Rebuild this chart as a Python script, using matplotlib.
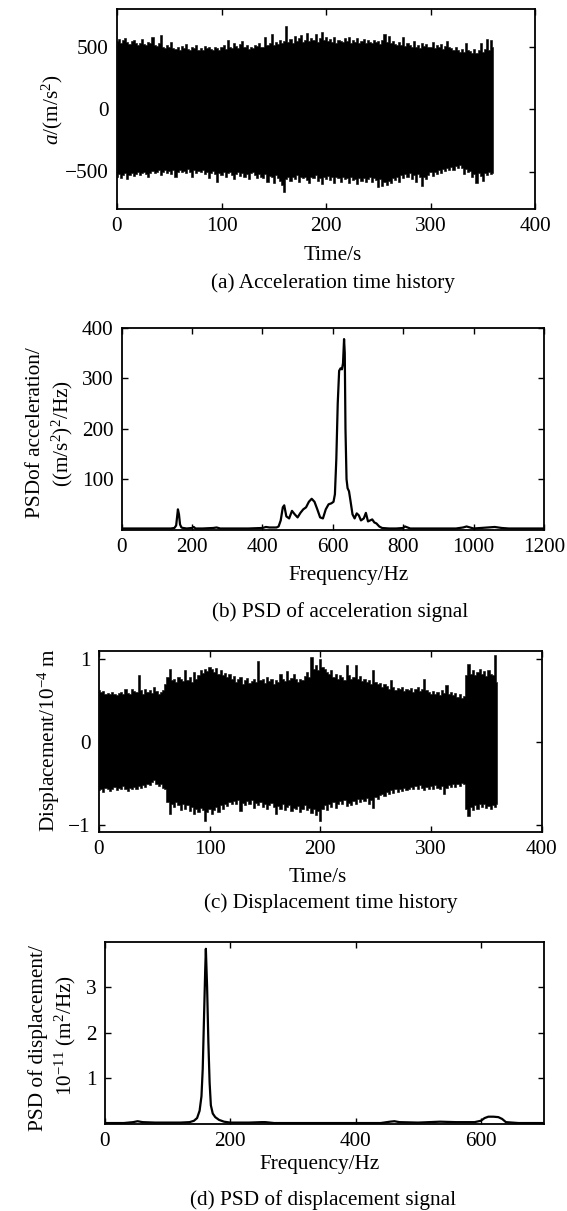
import numpy as np
import matplotlib
matplotlib.use("Agg")
import matplotlib.pyplot as plt

plt.rcParams['font.family'] = ['Liberation Serif', 'DejaVu Serif']
plt.rcParams['mathtext.fontset'] = 'custom'
plt.rcParams['mathtext.rm'] = 'Liberation Serif'
plt.rcParams['mathtext.it'] = 'Liberation Serif:italic'
plt.rcParams['mathtext.bf'] = 'Liberation Serif:bold'

# ---------------- data ----------------
# (a) acceleration time history: envelope (m/s^2) sampled every 2 s, 0..360 s
time_a = np.arange(0, 361, 2)
acc_upper = [
    545, 560, 530, 550, 565, 535, 520, 545, 555, 525,
    515, 530, 560, 520, 510, 535, 525, 580, 515, 505,
    525, 590, 500, 485, 510, 495, 540, 490, 480, 500,
    475, 505, 490, 520, 480, 470, 495, 485, 510, 475,
    490, 470, 505, 485, 495, 480, 470, 500, 490, 475,
    495, 510, 480, 555, 500, 490, 530, 505, 485, 520,
    545, 495, 510, 480, 500, 490, 515, 505, 530, 500,
    500, 575, 510, 525, 600, 515, 540, 520, 555, 530,
    545, 665, 540, 560, 530, 585, 545, 565, 595, 540,
    555, 610, 545, 570, 550, 600, 540, 565, 620, 550,
    575, 545, 560, 540, 580, 525, 555, 545, 535, 570,
    545, 580, 530, 555, 540, 565, 525, 545, 560, 530,
    550, 540, 525, 555, 535, 545, 520, 550, 600, 535,
    585, 530, 545, 520, 510, 540, 515, 575, 505, 525,
    510, 500, 545, 495, 515, 490, 530, 505, 520, 495,
    500, 540, 485, 510, 495, 520, 480, 505, 545, 495,
    490, 470, 500, 475, 460, 480, 455, 530, 470, 465,
    450, 480, 445, 470, 525, 460, 480, 560, 470, 555,
    500]
acc_lower = [
    540, 520, 555, 530, 515, 560, 525, 510, 535, 520,
    505, 530, 515, 500, 520, 545, 510, 495, 515, 500,
    490, 530, 505, 485, 510, 495, 520, 490, 540, 500,
    485, 505, 495, 515, 480, 500, 545, 490, 510, 495,
    505, 490, 520, 500, 555, 510, 495, 520, 585, 515,
    525, 505, 540, 515, 500, 530, 560, 520, 505, 535,
    510, 545, 520, 560, 515, 505, 530, 550, 520, 540,
    555, 520, 585, 535, 545, 590, 530, 550, 575, 610,
    665, 560, 540, 575, 545, 560, 530, 585, 545, 555,
    540, 565, 590, 545, 555, 530, 575, 550, 600, 545,
    560, 535, 570, 545, 595, 540, 555, 580, 545, 560,
    555, 590, 545, 570, 560, 600, 550, 575, 555, 585,
    560, 545, 580, 555, 570, 625, 560, 615, 585, 610,
    575, 595, 550, 565, 540, 580, 530, 555, 520, 545,
    515, 560, 530, 585, 520, 545, 615, 540, 560, 525,
    505, 535, 500, 520, 485, 510, 480, 495, 470, 490,
    460, 485, 455, 475, 450, 470, 520, 480, 500, 495,
    545, 520, 590, 510, 535, 575, 515, 530, 505, 520,
    510]

# (b) PSD of acceleration ((m/s^2)^2/Hz)
freq_b = [0, 20, 50, 100, 140, 150, 155, 160, 163, 166, 170, 175, 185, 200, 205,
          210, 230, 260, 270, 280, 320, 360, 400, 410, 420, 440, 446, 452, 458,
          462, 468, 476, 484, 492, 500, 508, 516, 524, 532, 540, 548, 556, 564,
          572, 580, 588, 596, 602, 606, 610, 614, 618, 622, 626, 629, 632, 634,
          636, 639, 642, 646, 650, 656, 662, 668, 674, 680, 688, 694, 700, 706,
          712, 718, 724, 732, 740, 760, 780, 800, 805, 820, 850, 900, 950, 970,
          980, 1000, 1040, 1060, 1080, 1100, 1150, 1200]
psd_acc = [2, 2, 2, 2, 2, 3, 8, 40, 30, 10, 4, 3, 2, 3, 5,
           2, 2, 3, 4, 2, 2, 2, 3, 5, 4, 4, 6, 18, 44,
           48, 26, 22, 37, 30, 24, 33, 40, 44, 55, 61, 55, 40, 24,
           22, 40, 50, 52, 55, 70, 140, 250, 315, 320, 318, 330, 378, 350,
           200, 100, 82, 76, 58, 30, 22, 32, 28, 18, 22, 33, 16, 18,
           20, 14, 12, 6, 3, 2, 2, 3, 6, 2, 2, 2, 2, 4,
           6, 2, 4, 5, 3, 2, 2, 2]

# (c) displacement time history: envelope (1e-4 m) sampled every 2 s
time_c = np.arange(0, 361, 2)
disp_upper = [
    0.62, 0.60, 0.61, 0.58, 0.59, 0.57, 0.60, 0.58, 0.56, 0.59,
    0.60, 0.57, 0.64, 0.59, 0.58, 0.63, 0.61, 0.60, 0.80, 0.62,
    0.58, 0.64, 0.60, 0.62, 0.59, 0.66, 0.61, 0.57, 0.60, 0.62,
    0.70, 0.78, 0.88, 0.74, 0.76, 0.72, 0.78, 0.75, 0.73, 0.86,
    0.74, 0.78, 0.72, 0.84, 0.76, 0.80, 0.86, 0.83, 0.88, 0.85,
    0.90, 0.87, 0.84, 0.89, 0.82, 0.86, 0.80, 0.83, 0.78, 0.81,
    0.76, 0.79, 0.72, 0.75, 0.78, 0.70, 0.74, 0.77, 0.71, 0.73,
    0.75, 0.72, 0.97, 0.74, 0.76, 0.71, 0.78, 0.73, 0.75, 0.70,
    0.74, 0.72, 0.82, 0.76, 0.73, 0.85, 0.74, 0.77, 0.81, 0.75,
    0.72, 0.76, 0.74, 0.79, 0.84, 0.78, 1.02, 0.88, 0.92, 0.86,
    1.00, 0.90, 0.88, 0.84, 0.82, 0.86, 0.78, 0.81, 0.76, 0.80,
    0.78, 0.74, 0.92, 0.80, 0.76, 0.78, 0.92, 0.75, 0.79, 0.73,
    0.76, 0.72, 0.74, 0.70, 0.86, 0.72, 0.69, 0.71, 0.66, 0.70,
    0.67, 0.64, 0.74, 0.66, 0.62, 0.65, 0.63, 0.66, 0.61, 0.64,
    0.62, 0.65, 0.60, 0.63, 0.66, 0.61, 0.64, 0.75, 0.62, 0.60,
    0.58, 0.61, 0.57, 0.60, 0.56, 0.62, 0.59, 0.68, 0.57, 0.60,
    0.56, 0.59, 0.54, 0.57, 0.53, 0.55, 0.80, 0.93, 0.82, 0.86,
    0.80, 0.84, 0.88, 0.81, 0.85, 0.79, 0.86, 0.82, 0.80, 1.04,
    0.72]
disp_lower = [
    0.58, 0.56, 0.60, 0.55, 0.57, 0.59, 0.56, 0.54, 0.58, 0.55,
    0.57, 0.53, 0.56, 0.59, 0.55, 0.57, 0.54, 0.56, 0.53, 0.55,
    0.52, 0.54, 0.50, 0.52, 0.48, 0.46, 0.50, 0.53, 0.51, 0.55,
    0.56, 0.72, 0.87, 0.74, 0.78, 0.72, 0.76, 0.82, 0.74, 0.80,
    0.76, 0.83, 0.78, 0.86, 0.80, 0.84, 0.79, 0.82, 0.95, 0.84,
    0.80, 0.86, 0.82, 0.78, 0.84, 0.76, 0.80, 0.74, 0.77, 0.72,
    0.75, 0.71, 0.74, 0.70, 0.83, 0.73, 0.76, 0.71, 0.74, 0.70,
    0.79, 0.73, 0.76, 0.72, 0.78, 0.74, 0.80, 0.76, 0.73, 0.78,
    0.87, 0.77, 0.80, 0.75, 0.82, 0.78, 0.76, 0.83, 0.79, 0.81,
    0.77, 0.84, 0.80, 0.76, 0.82, 0.79, 0.85, 0.81, 0.88, 0.83,
    0.95, 0.80, 0.76, 0.82, 0.74, 0.78, 0.72, 0.79, 0.75, 0.71,
    0.74, 0.70, 0.77, 0.73, 0.76, 0.71, 0.74, 0.69, 0.72, 0.68,
    0.71, 0.67, 0.74, 0.70, 0.79, 0.66, 0.69, 0.64, 0.62, 0.65,
    0.60, 0.63, 0.58, 0.61, 0.57, 0.60, 0.56, 0.59, 0.55, 0.58,
    0.56, 0.54, 0.57, 0.53, 0.56, 0.52, 0.55, 0.58, 0.54, 0.57,
    0.53, 0.56, 0.52, 0.55, 0.57, 0.53, 0.63, 0.55, 0.52, 0.54,
    0.51, 0.54, 0.50, 0.53, 0.49, 0.51, 0.80, 0.89, 0.78, 0.82,
    0.76, 0.80, 0.74, 0.78, 0.75, 0.79, 0.77, 0.81, 0.76, 0.78,
    0.74]

# (d) PSD of displacement (1e-11 m^2/Hz)
freq_d = [0, 30, 45, 52, 60, 80, 100, 120, 135, 142, 147, 151, 154, 156, 158,
          160, 161, 163, 165, 167, 169, 172, 176, 182, 190, 200, 230, 250, 256,
          270, 320, 380, 440, 455, 462, 470, 500, 535, 560, 590, 600, 606, 612,
          620, 628, 634, 640, 660, 700]
psd_disp = [0.01, 0.01, 0.03, 0.05, 0.03, 0.02, 0.02, 0.02, 0.03, 0.06, 0.12,
            0.28, 0.6, 1.2, 2.3, 3.4, 3.85, 3.0, 1.8, 0.9, 0.4, 0.22, 0.14,
            0.08, 0.04, 0.02, 0.02, 0.03, 0.03, 0.01, 0.01, 0.01, 0.01, 0.04,
            0.05, 0.03, 0.02, 0.04, 0.03, 0.03, 0.06, 0.12, 0.15, 0.15, 0.14,
            0.10, 0.03, 0.01, 0.01]

# ---------------- layout ----------------
W, H = 567, 1211
fig = plt.figure(figsize=(W / 100, H / 100), dpi=100)
FS = 15.3


def add_ax(left, right, top, bottom):
    return fig.add_axes([left / W, 1 - bottom / H, (right - left) / W, (bottom - top) / H])


def style(ax):
    for s in ax.spines.values():
        s.set_linewidth(1.3)
    ax.tick_params(direction='in', top=True, right=True, length=4, width=1,
                   labelsize=FS, pad=6)


def ftext(x, y, s, **kw):
    fig.text(x / W, 1 - y / H, s, ha='center', va='center', fontsize=FS, **kw)


# (a)
ax = add_ax(117, 535, 9, 209)
ax.fill_between(time_a, -np.array(acc_lower), acc_upper, step='mid',
                color='black', linewidth=0.4)
ax.set_xlim(0, 400)
ax.set_ylim(-800, 800)
ax.set_xticks([0, 100, 200, 300, 400])
ax.set_yticks([-500, 0, 500])
style(ax)
ftext(333, 255, 'Time/s')
ftext(333, 283, '(a) Acceleration time history')
ftext(52, 110, r'$a$/(m/s$^2$)', rotation=90)

# (b)
ax = add_ax(121.6, 544, 328, 529.5)
ax.plot(freq_b, psd_acc, color='black', lw=1.6)
ax.set_xlim(0, 1200)
ax.set_ylim(0, 400)
ax.set_xticks([0, 200, 400, 600, 800, 1000, 1200])
ax.set_yticks([100, 200, 300, 400])
style(ax)
ftext(349, 576, 'Frequency/Hz')
ftext(340, 612, '(b) PSD of acceleration signal')
ftext(36, 433, 'PSDof acceleration/', rotation=90)
ftext(62, 434, r'((m/s$^2$)$^2$/Hz)', rotation=90)

# (c)
ax = add_ax(98.9, 541.6, 651, 832)
ax.fill_between(time_c, -np.array(disp_lower), disp_upper, step='mid',
                color='black', linewidth=0.4)
ax.set_xlim(0, 400)
ax.set_ylim(-1.08, 1.09)
ax.set_xticks([0, 100, 200, 300, 400])
ax.set_yticks([-1, 0, 1])
style(ax)
ftext(318, 877, 'Time/s')
ftext(331, 903, '(c) Displacement time history')
ftext(49, 740, r'Displacement/10$^{-4}$ m', rotation=90)

# (d)
ax = add_ax(105, 543.5, 942, 1123.5)
ax.plot(freq_d, psd_disp, color='black', lw=1.6)
ax.set_xlim(0, 700)
ax.set_ylim(0, 4)
ax.set_xticks([0, 200, 400, 600])
ax.set_yticks([1, 2, 3])
style(ax)
ftext(320, 1165, 'Frequency/Hz')
ftext(323, 1200, '(d) PSD of displacement signal')
ftext(38, 1038, 'PSD of displacement/', rotation=90)
ftext(65, 1035, r'10$^{-11}$ (m$^2$/Hz)', rotation=90)

fig.savefig('out.png', dpi=100)
